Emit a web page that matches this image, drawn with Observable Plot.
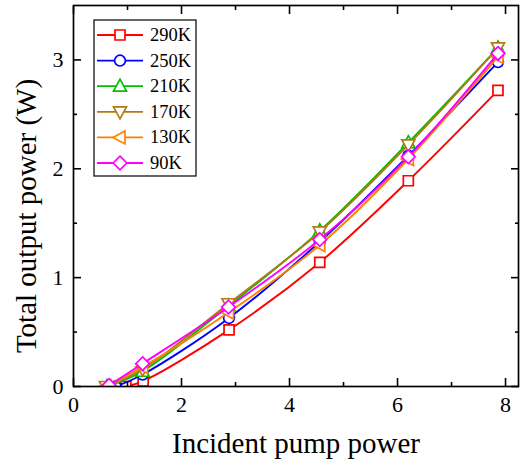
<!DOCTYPE html>
<html><head><meta charset="utf-8">
<script src="https://cdn.jsdelivr.net/npm/d3@7"></script>
<script src="https://cdn.jsdelivr.net/npm/@observablehq/plot@0.6"></script>
<style>body{margin:0;background:#fff}</style>
</head><body><div id="chart"></div>
<script>
// ---- data ----
const seriesNames = ["290K", "250K", "210K", "170K", "130K", "90K"];
const seriesColors = ["#ff0000", "#0000ff", "#00c000", "#b07a14", "#ff8000", "#ff00ff"];
const pump290 = [0.97, 1.29, 2.88, 4.56, 6.20, 7.86];
const pump250 = [0.78, 1.28, 2.88, 4.56, 6.20, 7.86];
const pump210 = [0.62, 1.28, 2.87, 4.56, 6.20, 7.86];
const pump170 = [0.60, 1.28, 2.87, 4.56, 6.20, 7.86];
const pump130 = [0.60, 1.28, 2.87, 4.56, 6.20, 7.86];
const pump90  = [0.66, 1.28, 2.87, 4.56, 6.20, 7.86];
const out290 = [0.00, 0.05, 0.52, 1.14, 1.89, 2.72];
const out250 = [0.00, 0.11, 0.63, 1.33, 2.12, 2.98];
const out210 = [0.00, 0.14, 0.74, 1.43, 2.24, 3.11];
const out170 = [0.00, 0.16, 0.76, 1.42, 2.22, 3.11];
const out130 = [0.00, 0.18, 0.68, 1.30, 2.09, 3.03];
const out90  = [0.01, 0.21, 0.73, 1.35, 2.11, 3.06];
const xMajor = [0, 2, 4, 6, 8];
const xMinor = [1, 3, 5, 7];
const yMajor = [0, 1, 2, 3];
const yMinor = [0.5, 1.5, 2.5];
const xTitle = "Incident pump power";
const yTitle = "Total output power (W)";

const pumps = [pump290, pump250, pump210, pump170, pump130, pump90];
const outs = [out290, out250, out210, out170, out130, out90];

// ---- symbols ----
const symSquare = {draw(c){const h=5; c.moveTo(-h,-h); c.lineTo(h,-h); c.lineTo(h,h); c.lineTo(-h,h); c.closePath();}};
const symCircle = {draw(c){const r=5.4; c.moveTo(r,0); c.arc(0,0,r,0,2*Math.PI); c.closePath();}};
const symUp = {draw(c){c.moveTo(0,-7); c.lineTo(6.5,5); c.lineTo(-6.5,5); c.closePath();}};
const symDown = {draw(c){c.moveTo(0,7); c.lineTo(6.5,-5); c.lineTo(-6.5,-5); c.closePath();}};
const symLeft = {draw(c){c.moveTo(-7,0); c.lineTo(5,-6.5); c.lineTo(5,6.5); c.closePath();}};
const symDiamond = {draw(c){const h=6.8; c.moveTo(0,-h); c.lineTo(h,0); c.lineTo(0,h); c.lineTo(-h,0); c.closePath();}};
const symbols = [symSquare, symCircle, symUp, symDown, symLeft, symDiamond];

const rows = seriesNames.map((name, i) => pumps[i].map((p, j) => ({series: name, pump: p, out: outs[i][j]})));

const seriesMarks = rows.flatMap((data, i) => [
  Plot.line(data, {x: "pump", y: "out", stroke: seriesColors[i], strokeWidth: 1.9, curve: "catmull-rom", clip: true}),
  Plot.dot(data, {x: "pump", y: "out", symbol: symbols[i], r: 5, stroke: seriesColors[i], fill: "white", strokeWidth: 1.7, clip: true})
]);

const font = "'Liberation Serif', 'Times New Roman', serif";
const plot = Plot.plot({
  width: 520, height: 468,
  marginLeft: 73, marginRight: 2, marginTop: 5, marginBottom: 82,
  style: {fontFamily: font, background: "white", color: "black"},
  x: {domain: [0, 8.24], label: null},
  y: {domain: [0, 3.5], label: null},
  marks: [
    ...seriesMarks,
    Plot.frame({stroke: "black", strokeWidth: 1.7}),
    Plot.axisX(xMajor, {anchor: "bottom", tickSize: -8, text: null, strokeWidth: 1.6, label: null}),
    Plot.axisX(xMinor, {anchor: "bottom", tickSize: -4, text: null, strokeWidth: 1.6, label: null}),
    Plot.axisX(xMajor, {anchor: "top", tickSize: -8, text: null, strokeWidth: 1.6, label: null}),
    Plot.axisX(xMinor, {anchor: "top", tickSize: -4, text: null, strokeWidth: 1.6, label: null}),
    Plot.axisY(yMajor, {anchor: "left", tickSize: -8, text: null, strokeWidth: 1.6, label: null}),
    Plot.axisY(yMinor, {anchor: "left", tickSize: -4, text: null, strokeWidth: 1.6, label: null}),
    Plot.axisY(yMajor, {anchor: "right", tickSize: -8, text: null, strokeWidth: 1.6, label: null}),
    Plot.axisY(yMinor, {anchor: "right", tickSize: -4, text: null, strokeWidth: 1.6, label: null}),
    Plot.axisX(xMajor, {anchor: "bottom", tickSize: 0, tickPadding: 10, fontSize: 22, label: null, tickFormat: d3.format("d")}),
    Plot.axisY(yMajor, {anchor: "left", tickSize: 0, tickPadding: 10, fontSize: 22, label: null, tickFormat: d3.format("d")}),
    Plot.text([xTitle], {text: d => d, frameAnchor: "bottom", textAnchor: "middle", dy: 66, fontSize: 29, fill: "black"}),
    Plot.text([yTitle], {text: d => d, frameAnchor: "left", textAnchor: "middle", dx: -47, dy: 20, rotate: -90, fontSize: 29, fill: "black"})
  ]
});
document.getElementById("chart").append(plot);

// ---- legend (inside plot, top-left) ----
const svg = d3.select(plot);
const lg = svg.append("g").attr("class", "legend");
const lx = 94, ly = 20, lw = 102, rowH = 25.6, firstRow = 35;
lg.append("rect").attr("x", lx).attr("y", ly).attr("width", lw).attr("height", firstRow - ly + rowH * 5 + 13)
  .attr("fill", "white").attr("stroke", "black").attr("stroke-width", 1.2);
seriesNames.forEach((name, i) => {
  const y = firstRow + i * rowH;
  lg.append("line").attr("x1", lx + 3).attr("x2", lx + 49).attr("y1", y).attr("y2", y)
    .attr("stroke", seriesColors[i]).attr("stroke-width", 1.8);
  lg.append("path").attr("d", d3.symbol().type(symbols[i])()).attr("transform", `translate(${lx + 26},${y})`)
    .attr("fill", "white").attr("stroke", seriesColors[i]).attr("stroke-width", 1.7);
  lg.append("text").attr("x", lx + 56).attr("y", y + 6).attr("font-size", 18.5).attr("font-family", font)
    .attr("text-anchor", "start").attr("fill", "black").text(name);
});
</script>
</body></html>
